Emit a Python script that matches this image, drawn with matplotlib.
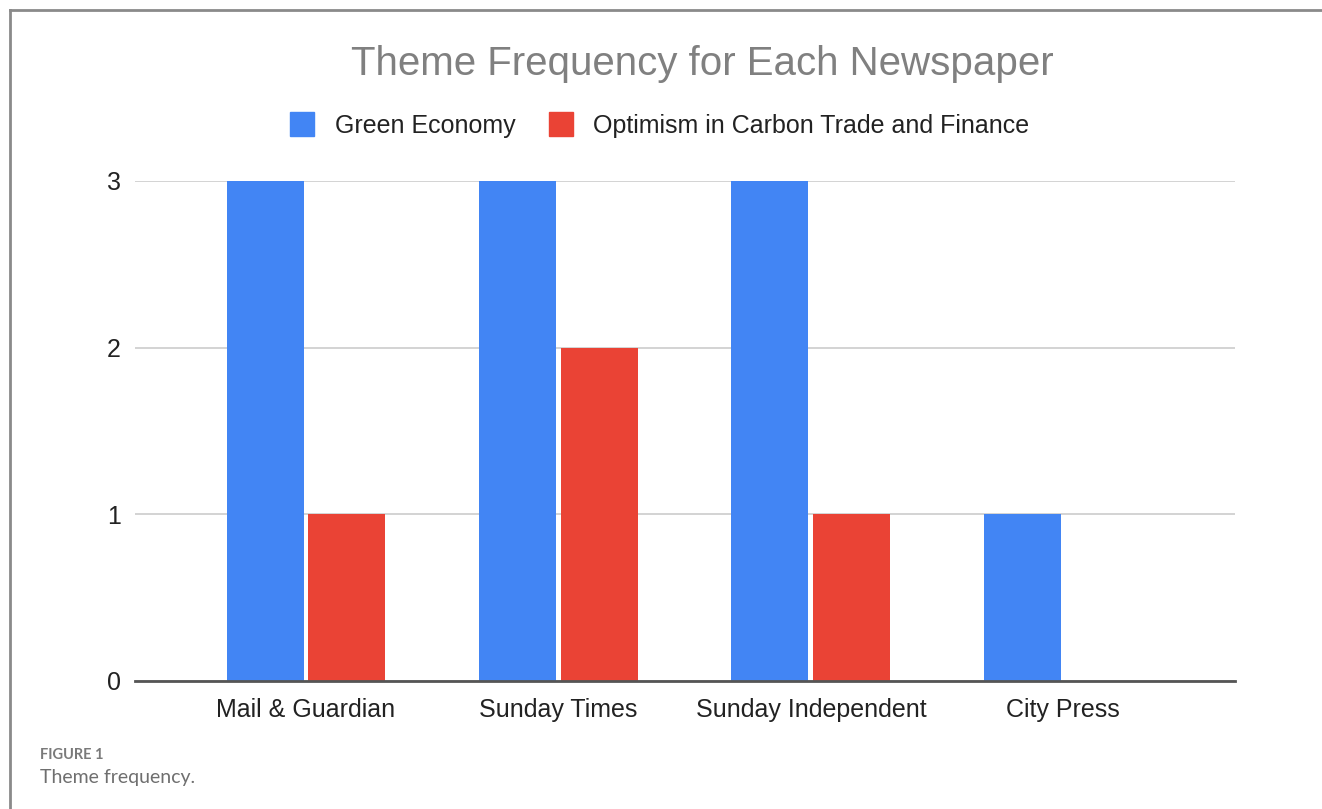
import numpy as np
import matplotlib
matplotlib.use("Agg")
import matplotlib.pyplot as plt
from matplotlib.lines import Line2D

newspapers = ["Mail & Guardian", "Sunday Times", "Sunday Independent", "City Press"]
green_economy = [3, 3, 3, 1]
carbon_optimism = [1, 2, 1, 0]
series_names = ["Green Economy", "Optimism in Carbon Trade and Finance"]
y_ticks = [0, 1, 2, 3]

BLUE = "#4285F4"
RED = "#EA4335"

plt.rcParams['font.family'] = ['Liberation Sans', 'DejaVu Sans']

fig = plt.figure(figsize=(13.22, 8.09), dpi=100)
W, H = 1322, 809

# axes placed in pixel terms
left, right, top, bottom = 135, 1235, 181, 681
ax = fig.add_axes([left / W, 1 - bottom / H, (right - left) / W, (bottom - top) / H])

x = np.arange(len(newspapers))
bw = 0.305
off = 0.162
ax.bar(x - off, green_economy, bw, color=BLUE, zorder=3)
ax.bar(x + off, carbon_optimism, bw, color=RED, zorder=3)

ax.set_xlim(-0.677, 3.68)
ax.set_ylim(0, 3)
ax.set_yticks(y_ticks)
ax.set_yticklabels([str(t) for t in y_ticks])
ax.set_xticks(x)
ax.set_xticklabels(newspapers)
ax.tick_params(axis='both', length=0, labelsize=18, colors="#222222")
ax.tick_params(axis='x', pad=12)
ax.tick_params(axis='y', pad=10)
ax.grid(axis='y', color="#d0d0d0", linewidth=1.3, zorder=0)
for s in ["top", "right", "left"]:
    ax.spines[s].set_visible(False)
ax.spines["bottom"].set_color("#555555")
ax.spines["bottom"].set_linewidth(2)
ax.spines["bottom"].set_zorder(4)

fig.text(702 / W, 1 - 64 / H, "Theme Frequency for Each Newspaper", ha="center", va="center",
         fontsize=29, color="#808080")

handles = [Line2D([], [], marker="s", linestyle="none", markersize=17, color=c)
           for c in (BLUE, RED)]
fig.legend(handles, series_names, loc="center", bbox_to_anchor=(657 / W, 1 - 126 / H),
           ncol=2, frameon=False, fontsize=18, handletextpad=0.6, columnspacing=1.1,
           handlelength=1.4, labelcolor="#222222")

# caption below the chart
fig.text(40 / W, 1 - 755 / H, "FIGURE 1", fontsize=10.5, fontweight="bold", color="#7a7a7a",
         family=["Lato", "DejaVu Sans"], va="center")
fig.text(40 / W, 1 - 778 / H, "Theme frequency.", fontsize=14, color="#6f6f6f",
         family=["Lato", "DejaVu Sans"], va="center")

# frame border (left and top edges only visible)
fig.add_artist(Line2D([10 / W, 10 / W], [0, 1 - 10 / H], color="#8a8a8a", linewidth=2,
                      transform=fig.transFigure))
fig.add_artist(Line2D([10 / W, 1], [1 - 10 / H, 1 - 10 / H], color="#8a8a8a", linewidth=2,
                      transform=fig.transFigure))

fig.savefig("out.png", dpi=100)
